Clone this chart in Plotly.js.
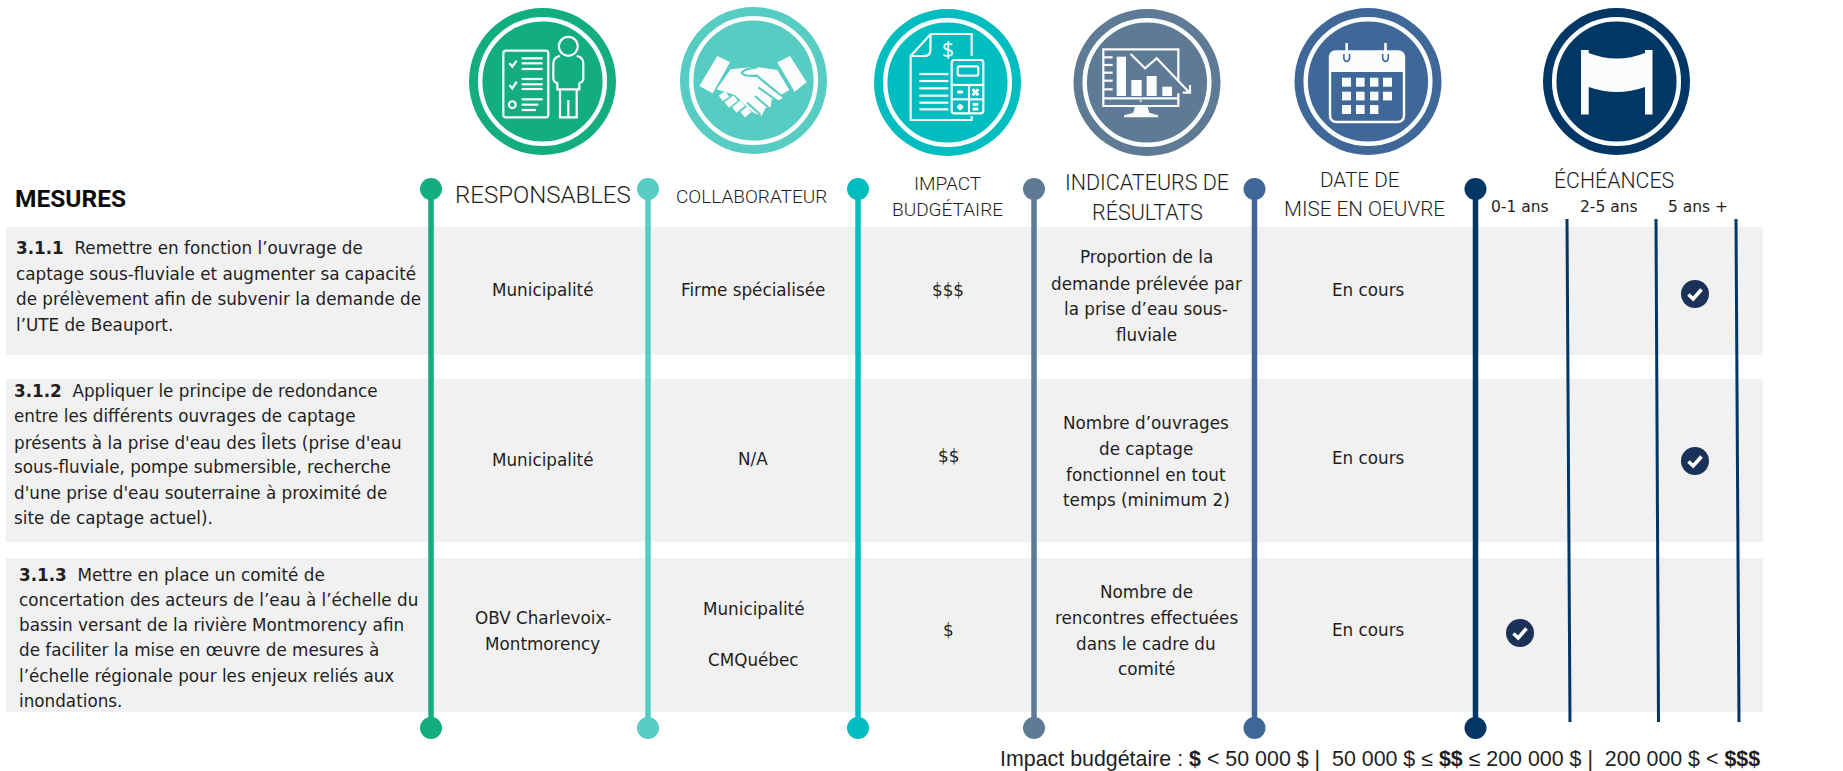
<!DOCTYPE html>
<html lang="fr"><head><meta charset="utf-8">
<script src="https://cdn.plot.ly/plotly-3.0.1.min.js"></script>
<style>html,body{margin:0;padding:0;background:#fff;overflow:hidden}#c{width:1843px;height:771px}</style>
</head><body><div id="c"></div>
<script>
// ---------- Content ----------
const columnHeads = [["RESPONSABLES"],["COLLABORATEUR"],["IMPACT","BUDGÉTAIRE"],["INDICATEURS DE","RÉSULTATS"],["DATE DE","MISE EN OEUVRE"],["ÉCHÉANCES"]];
const columnColors = ["#13ad80","#57ccc2","#00bdbf","#5e7a94","#3f6798","#003764"];
const horizonLabels = ["0-1 ans","2-5 ans","5 ans +"];
const measureLines = [
  ["<b>3.1.1</b>\u00a0\u00a0Remettre en fonction l’ouvrage de","captage sous-fluviale et augmenter sa capacité","de prélèvement afin de subvenir la demande de","l’UTE de Beauport."],
  ["<b>3.1.2</b>\u00a0\u00a0Appliquer le principe de redondance","entre les différents ouvrages de captage","présents à la prise d'eau des Îlets (prise d'eau","sous-fluviale, pompe submersible, recherche","d'une prise d'eau souterraine à proximité de","site de captage actuel)."],
  ["<b>3.1.3</b>\u00a0\u00a0Mettre en place un comité de","concertation des acteurs de l’eau à l’échelle du","bassin versant de la rivière Montmorency afin","de faciliter la mise en œuvre de mesures à","l’échelle régionale pour les enjeux reliés aux","inondations."]
];
const responsables = [["Municipalité"],["Municipalité"],["OBV Charlevoix-","Montmorency"]];
const collaborateurs = [["Firme spécialisée"],["N/A"],["Municipalité","","CMQuébec"]];
const impacts = ["$$$","$$","$"];
const indicateurs = [
  ["Proportion de la","demande prélevée par","la prise d’eau sous-","fluviale"],
  ["Nombre d’ouvrages","de captage","fonctionnel en tout","temps (minimum 2)"],
  ["Nombre de","rencontres effectuées","dans le cadre du","comité"]
];
const dates = ["En cours","En cours","En cours"];
const echeanceIndex = [2,2,0];
const footer = "Impact budgétaire : <b>$</b> < 50 000 $ |\u00a0 50 000 $ ≤ <b>$$</b> ≤ 200 000 $ |\u00a0 200 000 $ < <b>$$$</b>";

// ---------- Layout constants (pixels of the 1843x771 canvas) ----------
const W=1843,H=771;
const BODY='"DejaVu Sans",sans-serif', HEAD='Roboto,sans-serif';
const INK='#1e1e1e';
const BS=16.8;
const stemX=[431,648,858,1034,1254.5,1475.5], stemTop=189, stemBottom=728;
const thinTop=[1567,1656,1736], thinBot=[1570,1658.5,1739], thinY=[219,722];
const bands=[[227,355],[379,542],[558,712]], bandX=[6,1763];
const iconX=[542.5,753.5,947.5,1147,1368,1616.5], iconY=[81.5,80.5,82.5,82.5,81.5,81.5];
const headX=[[543],[751],[947,947],[1147,1147],[1360,1364],[1614]];
const headY=[[195],[196],[183,209],[182,212],[180,209],[180]];
const headSize=[24,19,19,21.5,20.7,21.3];
const horizonX=[1520,1609,1698], horizonY=207;
const measX=[15,13,18];
const measY=[[248,273.5,299,325],[391,416,442,467,493,518],[575,600,625,650,676,701]];
const colX={resp:542.5,coll:753,imp:948,ind:1146,date:1368};
const respY=[[290],[460],[618,644]];
const collY=[[290],[459],[609,635,660]];
const impY=[290,456,630];
const indY=[[257,284,309,335],[423,449,475,500],[592,618,643.5,669]];
const dateY=[290,458,630];
const checkX=[1520,1608,1695], checkY=[294,461,633];

// ---------- Helpers ----------
const ann=[], shapes=[];
const T=(x,y,text,size,o={})=>ann.push(Object.assign({x,y,xref:'x',yref:'y',text,showarrow:false,xanchor:'center',yanchor:'middle',borderpad:0,
  font:{family:o.family||BODY,size,color:o.color||INK,weight:o.weight||400}},o.a||{}));
const band=(y0,y1)=>shapes.push({type:'rect',layer:'below',x0:bandX[0],x1:bandX[1],y0,y1,fillcolor:'#f1f1f1',line:{width:0}});
const circ=(cx,cy,r,fill,lineC,lw)=>shapes.push({type:'circle',x0:cx-r,x1:cx+r,y0:cy-r,y1:cy+r,fillcolor:fill||'rgba(0,0,0,0)',line:{width:lw||0,color:lineC||'rgba(0,0,0,0)'}});
function mapper(ox,oy,k){k=k||3;return d=>d.replace(/(-?\d+\.?\d*)[ ,](-?\d+\.?\d*)/g,(m,a,b)=>(ox+a/k).toFixed(2)+','+(oy+b/k).toFixed(2));}
const draw=(m,d,w,color,fill)=>shapes.push({type:'path',path:m(d),line:{width:w,color:color},fillcolor:fill||'rgba(0,0,0,0)'});
const WH='#fbfdfd';

// ---------- Rows ----------
bands.forEach(b=>band(b[0],b[1]));

// ---------- Medallions ----------
iconX.forEach((x,i)=>{circ(x,iconY[i],73.5,columnColors[i]);circ(x,iconY[i],62.3,null,WH,4.5);});

// Icon 1: checklist and person
{const m=mapper(480,30),w=2.2,s=(d,l)=>draw(m,d,l||w,WH);
 s('M78,62 L197,62 Q205,62 205,70 L205,254 Q205,262 197,262 L78,262 Q70,262 70,254 L70,70 Q70,62 78,62 Z');
 s('M88,100 L97,110 L110,92');s('M88,165 L97,175 L110,155');
 [85,100,117,147,163,177,208].forEach(y=>s(`M125,${y} L188,${y}`));s('M125,224 L175,224');s('M125,240 L168,240');
 circ(480+97/3,30+224/3,3.4,null,WH,2.2);circ(480+265/3,30+49/3,9.5,null,WH,2.2);
 s('M240,78 Q220,82 220,100 L220,145 Q220,156 232,160 L232,178 L298,178 L298,160 Q310,156 310,145 L310,100 Q310,82 290,78');
 s('M240,178 L240,262 L290,262 L290,178');s('M265,210 L265,262');}

// Icon 2: handshake
{const m=mapper(690,30),bg=columnColors[1];
 draw(m,'M82,78 L120,97 L68,190 L28,168 Z',0,WH,WH);
 draw(m,'M300,78 L262,97 L314,185 L350,157 Z',0,WH,WH);
 draw(m,'M122,118 L195,110 L262,120 L298,180 L272,195 L278,205 L262,213 L245,207 L242,232 L226,235 L215,258 L190,248 L165,225 L135,195 L80,178 Z',0,WH,WH);
 draw(m,'M202,112 Q165,115 155,128 Q160,140 200,137 L275,198',2.2,bg);
 draw(m,'M205,172 L265,215',2,bg);draw(m,'M195,198 L238,235',2,bg);draw(m,'M172,218 L212,255',2,bg);
 draw(m,'M82,184 L118,205',1.5,bg);
 [[92,205,112,192],[110,225,137,204],[133,240,158,219],[158,254,178,238]].forEach(f=>{
   draw(m,`M${f[0]-4},${f[1]-6} L${f[2]-4},${f[3]-6}`,2,bg);
   draw(m,`M${f[0]},${f[1]} L${f[2]},${f[3]}`,7,WH);});}

// Icon 3: budget sheet and calculator
{const m=mapper(890,30),w=2.2,s=(d,l)=>draw(m,d,l||w,WH);
 s('M245,78 L245,12 L122,12 L62,78 L62,270 L245,270 L245,258');
 s('M122,12 L121,62 Q120,78 104,78 L62,78');
 [132,153,175,197,218,238].forEach(y=>s(`M88,${y} L175,${y}`));
 s('M193,90 L272,90 Q280,90 280,98 L280,242 Q280,250 272,250 L193,250 Q185,250 185,242 L185,98 Q185,90 193,90 Z');
 s('M209,109 L259,109 Q265,109 265,115 L265,131 Q265,137 259,137 L209,137 Q203,137 203,131 L203,115 Q203,109 209,109 Z');
 s('M187,165 L278,165');s('M187,208 L278,208');s('M237,165 L237,248');
 s('M202,186 L219,186',3);s('M248,178 L265,196',3);s('M265,178 L248,196',3);
 s('M201,231 L220,231',3);s('M210.5,222 L210.5,240',3);s('M248,223 L265,223',3);s('M248,237 L265,237',3);
 T(890+175/3,30+57/3,'$',21,{color:WH,family:'"Noto Sans",sans-serif'});}

// Icon 4: monitor with falling chart
{const m=mapper(1090,30),w=2.2,s=(d,l)=>draw(m,d,l||w,WH),f=d=>draw(m,d,0,WH,WH);
 s('M265,150 L265,58 L40,58 L40,228 L265,228 L265,190');s('M40,205 L265,205');
 f('M135,228 L172,228 L178,248 L204,256 L204,262 L102,262 L102,256 L130,248 Z');
 f('M80,80 L108,80 L108,198 L80,198 Z');f('M124,150 L155,150 L155,198 L124,198 Z');
 f('M170,138 L200,138 L200,198 L170,198 Z');f('M217,170 L246,170 L246,198 L217,198 Z');
 [82,105,128,152,178].forEach(y=>s(`M42,${y} L68,${y}`));
 s('M122,72 L165,115 L200,85 L296,185');s('M300,165 L300,188 L278,188');
 circ(1090+152/3,30+214/3,1,WH);}

// Icon 5: calendar
{const bg=columnColors[4];
 const s=(d,l)=>shapes.push({type:'path',path:d,line:{width:l,color:WH},fillcolor:'rgba(0,0,0,0)'});
 s('M1336,51.5 L1398,51.5 Q1404,51.5 1404,58 L1404,115 Q1404,122 1397,122 L1337,122 Q1330,122 1330,115 L1330,58 Q1330,51.5 1336,51.5 Z',2.4);
 shapes.push({type:'path',path:'M1336,51.5 L1398,51.5 Q1404,51.5 1404,58 L1404,72 L1330,72 L1330,58 Q1330,51.5 1336,51.5 Z',line:{width:0},fillcolor:WH});
 [1346.7,1385.5].forEach(x=>{
   s(`M${x},43 L${x},56`,2.6);
   shapes.push({type:'path',path:`M${x-2.8},54 L${x-2.8},59 Q${x},64 ${x+2.8},59 L${x+2.8},54`,line:{width:1.6,color:bg},fillcolor:'rgba(0,0,0,0)'});});
 const cols=[[1342,1351],[1356,1364.6],[1370,1378.4],[1383,1392]],rows=[[77.7,86.7],[91.7,100.4],[105,114]];
 rows.forEach((r,ri)=>cols.forEach((c,ci)=>{if(ri===2&&ci===3)return;
   shapes.push({type:'rect',x0:c[0],x1:c[1],y0:r[0],y1:r[1],fillcolor:WH,line:{width:0}});}));}

// Icon 6: banner
shapes.push({type:'path',path:'M1581,50 L1588.7,50 L1588.7,53 Q1617,64 1645,53 L1645,50 L1652.5,50 L1652.5,114.5 L1645,114.5 L1645,87 Q1617,97 1588.7,87 L1588.7,114.5 L1581,114.5 Z',line:{width:0},fillcolor:WH});

// ---------- Text ----------
T(70,198,'<b>MESURES</b>',24.5,{family:'Roboto,sans-serif',color:'#0c0c0c'});
columnHeads.forEach((ls,i)=>ls.forEach((t,j)=>T(headX[i][j],headY[i][j],t,headSize[i],{family:HEAD,weight:300})));
horizonLabels.forEach((t,i)=>T(horizonX[i],horizonY,t,15.5));
measureLines.forEach((ls,i)=>ls.forEach((t,j)=>T(measX[i],measY[i][j],t,BS,{a:{xanchor:'left'}})));
responsables.forEach((ls,i)=>ls.forEach((t,j)=>T(colX.resp,respY[i][j],t,BS)));
collaborateurs.forEach((ls,i)=>ls.forEach((t,j)=>{if(t)T(colX.coll,collY[i][j],t,BS);}));
impacts.forEach((t,i)=>T(colX.imp,impY[i],t,BS));
indicateurs.forEach((ls,i)=>ls.forEach((t,j)=>T(colX.ind,indY[i][j],t,BS)));
dates.forEach((t,i)=>T(colX.date,dateY[i],t,BS));
T(1380,758.5,footer,21.4,{family:'"Liberation Sans",Arial,sans-serif'});

// ---------- Traces ----------
const traces=[];
stemX.forEach((x,i)=>traces.push({x:[x,x],y:[stemTop,stemBottom],mode:'lines+markers',
  line:{color:columnColors[i],width:5.5},marker:{color:columnColors[i],size:22},hoverinfo:'skip',showlegend:false}));
thinTop.forEach((x,i)=>traces.push({x:[x,thinBot[i]],y:thinY,mode:'lines',line:{color:columnColors[5],width:3},hoverinfo:'skip',showlegend:false}));
const cx=echeanceIndex.map(k=>checkX[k]);
traces.push({x:cx,y:checkY,mode:'markers',marker:{color:'#1a3158',size:28},hoverinfo:'skip',showlegend:false});
cx.forEach((x,i)=>shapes.push({type:'path',layer:'above',path:`M${x-6.5},${checkY[i]+0.5} L${x-1.8},${checkY[i]+5} L${x+6.5},${checkY[i]-4.5}`,line:{width:3.6,color:'#fff'},fillcolor:'rgba(0,0,0,0)'}));

Plotly.newPlot('c',traces,{
  width:W,height:H,margin:{l:0,r:0,t:0,b:0},paper_bgcolor:'#fff',plot_bgcolor:'#fff',showlegend:false,
  xaxis:{range:[0,W],visible:false,fixedrange:true},yaxis:{range:[H,0],visible:false,fixedrange:true},
  shapes:shapes,annotations:ann
},{displayModeBar:false,staticPlot:true});
</script></body></html>
